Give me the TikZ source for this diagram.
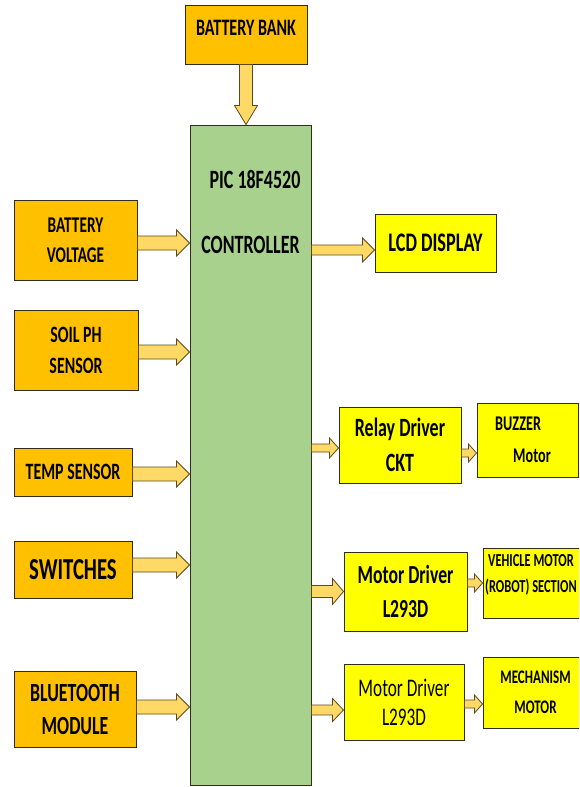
\documentclass[tikz,border=0pt]{standalone}
\usepackage{fontspec}
\setmainfont{Carlito}[FakeStretch=0.68]
\usepackage{tikz}
\usetikzlibrary{positioning, calc}
\definecolor{boxorange}{HTML}{FFC000}
\definecolor{boxyellow}{HTML}{FFFF00}
\definecolor{ctrlgreen}{HTML}{A9D18E}
\definecolor{arrowfill}{HTML}{FFD966}
\definecolor{arrowline}{HTML}{5C4A1E}
\definecolor{boxline}{HTML}{2E2E1A}
\newcommand\fsz[2]{\fontsize{#1pt}{#2pt}\selectfont}

\begin{document}
\begin{tikzpicture}[
  x=1pt, y=-1pt,
  block/.style={draw=boxline, line width=1pt, inner sep=0pt, align=center},
  inbox/.style={block, fill=boxorange},
  outbox/.style={block, fill=boxyellow},
  ctrlbox/.style={draw=boxline, line width=1pt, fill=ctrlgreen, inner sep=0pt},
  ctrltext/.style={inner sep=0pt, font=\bfseries\fsz{26.4}{30}},
  fat/.style n args={3}{draw=arrowline, fill=arrowfill, line width=0.8pt,
    to path={($(\tikztotarget)!#3!(\tikztostart)$) coordinate (fatB)
      ($(\tikztostart)!#1!90:(\tikztotarget)$) -- ($(fatB)!#1!90:(\tikztotarget)$)
      -- ($(fatB)!#2!90:(\tikztotarget)$) -- (\tikztotarget)
      -- ($(fatB)!#2!-90:(\tikztotarget)$) -- ($(fatB)!#1!-90:(\tikztotarget)$)
      -- ($(\tikztostart)!#1!-90:(\tikztotarget)$) -- cycle}},
]
  \useasboundingbox (0,0) rectangle (579,787);
  \clip (0,0) rectangle (579,787);

  % Supply and controller
  \node (bank) [inbox, minimum width=122pt, minimum height=59pt, text depth=14pt, font=\bfseries\fsz{23.6}{28}] at (246,34.5) {BATTERY BANK};
  \node (ctrl) [ctrlbox, minimum width=121pt, minimum height=660pt] at (250.5,455) {};
  \node (pic) [ctrltext] at ($(ctrl.north)+(4.5,55)$) {PIC 18F4520};
  \node (ctrlname) [ctrltext] at ($(ctrl.north)+(0,120)$) {CONTROLLER};

  % Input items
  \node (bv) [inbox, minimum width=123pt, minimum height=80pt, font=\bfseries\fsz{22.5}{30}] at (75.5,240) {BATTERY\\VOLTAGE};
  \node (soil) [inbox, minimum width=124pt, minimum height=80pt, font=\bfseries\fsz{23.4}{31}] at (76,350) {SOIL PH\\SENSOR};
  \node (temp) [inbox, minimum width=118pt, minimum height=48pt, font=\bfseries\fsz{23.4}{26}] at (73,472) {TEMP SENSOR};
  \node (sw) [inbox, minimum width=118pt, minimum height=57pt, font=\bfseries\fsz{30.5}{34}] at (73,569.5) {SWITCHES};
  \node (bt) [inbox, minimum width=122pt, minimum height=76pt, font=\bfseries\fsz{26.2}{33}] at (75,709) {BLUETOOTH\\MODULE};

  % Output items
  \node (lcd) [outbox, minimum width=121pt, minimum height=58pt, font=\bfseries\fsz{26.8}{30}] at (435.5,243) {LCD DISPLAY};
  \node (relay) [outbox, minimum width=122pt, minimum height=76pt, font=\bfseries\fsz{26.4}{35}] at (400,445) {Relay Driver\\CKT};
  \node (buzz) [outbox, align=left, minimum width=101pt, minimum height=74pt, font=\bfseries\fsz{20.9}{32}] at (527.5,440) {BUZZER\\\hspace*{18pt}Motor\hspace*{9pt}};
  \node (drv1) [outbox, minimum width=123pt, minimum height=79pt, font=\bfseries\fsz{26}{34}] at (405.5,591.5) {Motor Driver\\L293D};
  \node (veh) [outbox, minimum width=105pt, minimum height=70pt, text depth=20pt, font=\bfseries\fsz{18.3}{26}] at (535.5,583) {VEHICLE MOTOR\hspace*{9pt}\\(ROBOT) SECTION\hspace*{9pt}};
  \node (drv2) [outbox, minimum width=120pt, minimum height=76pt, font=\fsz{25.3}{29}] at (404,702) {Motor Driver\\L293D};
  \node (mech) [outbox, minimum width=105pt, minimum height=71pt, font=\bfseries\fsz{19.2}{30}] at (535.5,692.5) {MECHANISM\\MOTOR};

  % Battery bank to controller
  \draw [fat={6.5pt}{11.5pt}{19pt}] (bank.south) to (bank.south |- ctrl.north);

  % Connect input items to the controller
  \foreach \src/\dy in {bv/-3, soil/-2, temp/-2, sw/4.5, bt/2} {
    \coordinate (\src-out) at ([yshift=\dy pt]\src.east);
    \draw [fat={7pt}{13pt}{13pt}] (\src-out) to (\src-out -| ctrl.west);
  }

  % Connect the controller to output items
  \foreach \dst/\dy/\sw/\hw/\hl in {lcd/-7/5/12/12, relay/-3/4/10/9, drv1/0/6/13/11, drv2/-8/5/11.5/11} {
    \coordinate (\dst-in) at ([yshift=\dy pt]\dst.west);
    \draw [fat={\sw pt}{\hw pt}{\hl pt}] (\dst-in -| ctrl.east) to (\dst-in);
  }

  % Drivers to their loads
  \foreach \src/\dst/\dy in {relay/buzz/-8, drv1/veh/8.5, drv2/mech/-2} {
    \coordinate (\src-out) at ([yshift=\dy pt]\src.east);
    \draw [fat={4pt}{9pt}{8pt}] (\src-out) to (\src-out -| \dst.west);
  }

\end{tikzpicture}
\end{document}
